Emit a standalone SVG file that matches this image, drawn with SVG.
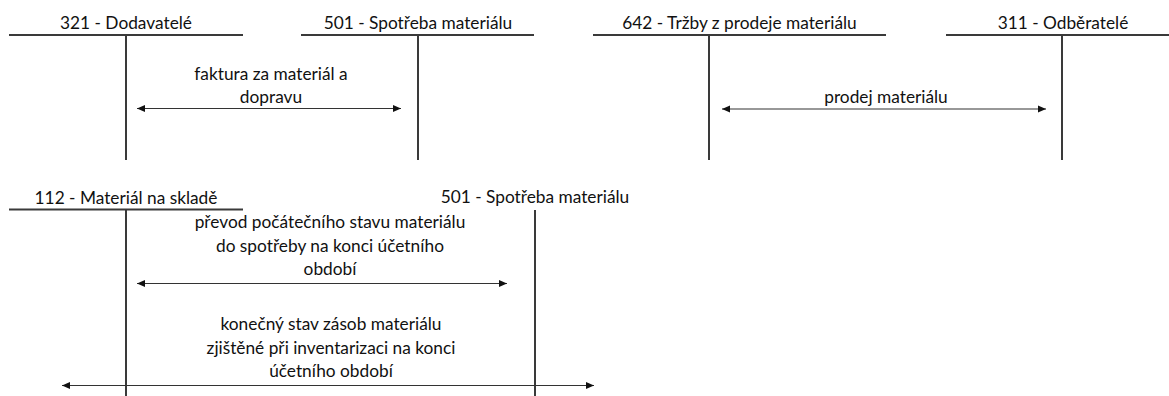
<svg xmlns="http://www.w3.org/2000/svg" width="1169" height="396" viewBox="0 0 1169 396">
<style>
text{font-family:Lato,"Liberation Sans",sans-serif;font-size:17.3px;fill:#111;text-anchor:middle}
.t{stroke:#3a3a3a;stroke-width:2;fill:none}
.a{stroke:#333;stroke-width:1.2;fill:none;marker-start:url(#hs);marker-end:url(#he)}
</style>
<defs>
<marker id="he" markerUnits="userSpaceOnUse" markerWidth="10" markerHeight="8" refX="8" refY="4" orient="auto"><path d="M0,0.5 L8,4 L0,7.5 Z" fill="#111"/></marker>
<marker id="hs" markerUnits="userSpaceOnUse" markerWidth="10" markerHeight="8" refX="0" refY="4" orient="auto"><path d="M8,0.5 L0,4 L8,7.5 Z" fill="#111"/></marker>
</defs>
<rect width="1169" height="396" fill="#fff"/>
<g id="acc321">
<line class="t" x1="9" y1="35" x2="243" y2="35"/>
<line class="t" x1="126" y1="35" x2="126" y2="160"/>
<text x="126" y="28.5">321 - Dodavatelé</text>
</g>
<g id="acc501top">
<line class="t" x1="301" y1="35" x2="534" y2="35"/>
<line class="t" x1="418" y1="35" x2="418" y2="160"/>
<text x="418" y="28.5">501 - Spotřeba materiálu</text>
</g>
<g id="acc642">
<line class="t" x1="593" y1="35" x2="886" y2="35"/>
<line class="t" x1="709" y1="35" x2="709" y2="160"/>
<text x="739.5" y="28.5">642 - Tržby z prodeje materiálu</text>
</g>
<g id="acc311">
<line class="t" x1="946" y1="35" x2="1169" y2="35"/>
<line class="t" x1="1062" y1="35" x2="1062" y2="160"/>
<text x="1063" y="28.5">311 - Odběratelé</text>
</g>
<g id="acc112">
<line class="t" x1="9" y1="209.5" x2="243" y2="209.5"/>
<line class="t" x1="126" y1="209.5" x2="126" y2="396"/>
<text x="126" y="203.5">112 - Materiál na skladě</text>
</g>
<g id="acc501bottom">
<line class="t" x1="535" y1="210" x2="535" y2="396"/>
<text x="535" y="202.5">501 - Spotřeba materiálu</text>
</g>
<g id="connectors">
<line class="a" x1="137" y1="108.5" x2="401" y2="108.5"/>
<text x="271" y="80">faktura za materiál a</text>
<text x="271" y="102.5">dopravu</text>
<line class="a" x1="722" y1="109" x2="1046" y2="109"/>
<text x="886" y="103">prodej materiálu</text>
<line class="a" x1="137" y1="283.5" x2="507" y2="283.5"/>
<text x="330" y="228">převod počátečního stavu materiálu</text>
<text x="330" y="251.5">do spotřeby na konci účetního</text>
<text x="330" y="275">období</text>
<line class="a" x1="62" y1="385.5" x2="594" y2="385.5"/>
<text x="331" y="330">konečný stav zásob materiálu</text>
<text x="331" y="353.5">zjištěné při inventarizaci na konci</text>
<text x="331" y="377">účetního období</text>
</g>
</svg>
